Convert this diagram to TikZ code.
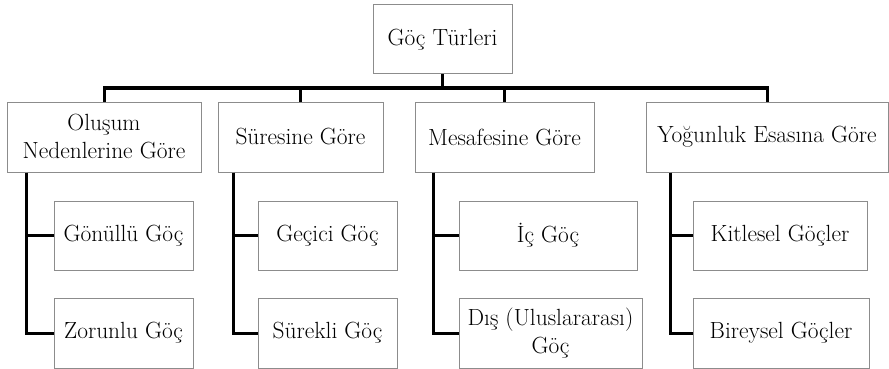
\documentclass[tikz,border=0pt]{standalone}
\usepackage{tikz}
\begin{document}
\begin{tikzpicture}[x=1pt,y=-1pt]
\tikzstyle{every node}+=[inner sep=0pt, font=\fontsize{23.4}{28}\selectfont]
\tikzstyle{kutu}=[draw=black!45, line width=1pt, align=center, fill=white]
\tikzstyle{hat}=[black, line width=3pt]
\useasboundingbox (0,0) rectangle (889,369);
\node [kutu, minimum width=139pt, minimum height=69pt] (kok) at (442.5,39.5) {Göç Türleri};
\node [kutu, minimum width=194pt, minimum height=70pt] (o1) at (104,137) {Oluşum\\Nedenlerine Göre};
\node [kutu, minimum width=165pt, minimum height=70pt] (o2) at (300.5,137) {Süresine Göre};
\node [kutu, minimum width=179pt, minimum height=70pt] (o3) at (504.5,137) {Mesafesine Göre};
\node [kutu, minimum width=242pt, minimum height=70pt] (o4) at (767,137) {Yoğunluk Esasına Göre};
\node [kutu, minimum width=139pt, minimum height=69pt] (g1) at (123.5,235.5) {Gönüllü Göç};
\node [kutu, minimum width=139pt, minimum height=70pt] (z1) at (123.5,333) {Zorunlu Göç};
\node [kutu, minimum width=139pt, minimum height=69pt] (g2) at (327.5,235.5) {Geçici Göç};
\node [kutu, minimum width=139pt, minimum height=70pt] (z2) at (327.5,333) {Sürekli Göç};
\node [kutu, minimum width=178pt, minimum height=69pt] (g3) at (548,235.5) {İç Göç};
\node [kutu, minimum width=183pt, minimum height=70pt] (z3) at (550.5,333) {Dış (Uluslararası)\\Göç};
\node [kutu, minimum width=174pt, minimum height=69pt] (g4) at (780,235.5) {Kitlesel Göçler};
\node [kutu, minimum width=176pt, minimum height=70pt] (z4) at (781,333) {Bireysel Göçler};
% ana hat
\draw [hat] (kok.south) -- (kok.south |- 0,88);
\draw [hat] (o1.north) -- (o1.north |- 0,88) -- (o4.north |- 0,88) -- (o4.north);
\draw [hat] (o2.north) -- (o2.north |- 0,88);
\draw [hat] (o3.north) -- (o3.north |- 0,88);
% alt dallar
\draw [hat] (o1.south -| 26,0) |- (g1.west);
\draw [hat] (o1.south -| 26,0) |- (z1.west);
\draw [hat] (o2.south -| 233,0) |- (g2.west);
\draw [hat] (o2.south -| 233,0) |- (z2.west);
\draw [hat] (o3.south -| 433,0) |- (g3.west);
\draw [hat] (o3.south -| 433,0) |- (z3.west);
\draw [hat] (o4.south -| 670,0) |- (g4.west);
\draw [hat] (o4.south -| 670,0) |- (z4.west);
\end{tikzpicture}
\end{document}
